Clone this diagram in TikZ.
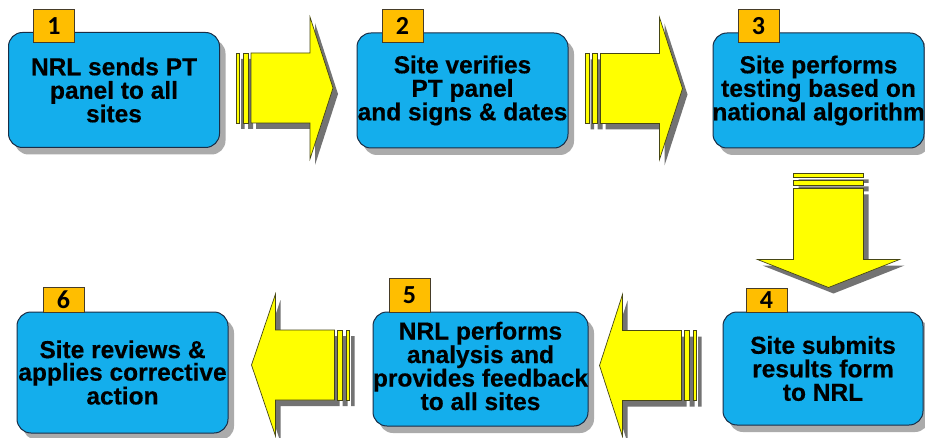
\documentclass[tikz,border=0pt]{standalone}
\usepackage{fontspec}
\setmainfont{Liberation Sans}
\newfontfamily\stepfamily[BoldFeatures={FakeBold=0.4}]{Liberation Sans}
\newfontfamily\tagfamily{Carlito}
\usetikzlibrary{shadows}

\definecolor{stepblue}{RGB}{20,174,236}
\definecolor{stepline}{RGB}{25,45,70}
\definecolor{tagorange}{RGB}{255,190,0}
\definecolor{tagline}{RGB}{70,60,40}
\definecolor{arrowyellow}{RGB}{255,255,0}
\definecolor{arrowline}{RGB}{70,70,20}

\tikzset{
  stepbox/.style={draw=stepline, line width=1pt, fill=stepblue, rounded corners=14pt,
    minimum width=211, minimum height=115, inner sep=0,
    drop shadow={shadow xshift=6pt, shadow yshift=-7pt, fill=black!65}},
  steptext/.style={align=center, inner sep=0, font=\stepfamily\bfseries\fontsize{24.5}{23.5}\selectfont},
  steptag/.style={draw=tagline, line width=0.8pt, fill=tagorange, anchor=north west,
    minimum width=41, minimum height=33, inner sep=0,
    font=\tagfamily\bfseries\fontsize{26}{26}\selectfont},
  arrowpart/.style={draw=arrowline, line width=0.7pt, fill=arrowyellow},
  arrowshade/.style={fill=black!55},
  % #1 head base, #2 tip, #3 shadow offset in the arrow's own frame
  pics/flowarrow/.style n args={3}{code={
    \fill[arrowshade, shift={(#3)}] (15,-35) -- (#1,-35) -- (#1,-71) -- (#2,0) -- (#1,71) -- (#1,35) -- (15,35) -- cycle
      (7,-35) rectangle (12,35) (0,-35) rectangle (3.5,35);
    \filldraw[arrowpart] (15,-35) -- (#1,-35) -- (#1,-71) -- (#2,0) -- (#1,71) -- (#1,35) -- (15,35) -- cycle;
    \filldraw[arrowpart] (7,-35) rectangle (12,35);
    \filldraw[arrowpart] (0,-35) rectangle (3.5,35);
  }}
}

\begin{document}
\begin{tikzpicture}[x=1pt,y=-1pt]
\fill[white] (0,0) rectangle (925,438);
\useasboundingbox (0,0) rectangle (925,438);

% top row
\node[stepbox] (s1) at (114,90) {};
\node[stepbox] (s2) at (462.5,90.5) {};
\node[stepbox] (s3) at (818.5,90.5) {};
% bottom row
\node[stepbox, minimum width=200, minimum height=113] (s4) at (823,368.5) {};
\node[stepbox, minimum width=215, minimum height=114] (s5) at (480.5,369) {};
\node[stepbox, minimum height=121] (s6) at (122.5,372.5) {};

% texts
\node[steptext] (l1) at (s1) {NRL sends PT\\panel to all\\sites};
\node[steptext] (l2) at (s2) {Site verifies\\PT panel\\and signs \& dates};
\node[steptext] (l3) at (s3) {Site performs\\testing based on\\national algorithm};
\node[steptext] (l4) at (s4) {Site submits\\results form\\to NRL};
\node[steptext] (l5) at ([yshift=3]s5.center) {NRL performs\\analysis and\\provides feedback\\to all sites};
\node[steptext, font=\stepfamily\bfseries\fontsize{24.5}{22.5}\selectfont] (l6) at (s6) {Site reviews \&\\applies corrective\\action};

% number tags
\node[steptag] (t1) at ([xshift=25,yshift=23]s1.north west) {1};
\node[steptag] (t2) at ([xshift=25,yshift=23]s2.north west) {2};
\node[steptag] (t3) at ([xshift=25,yshift=23]s3.north west) {3};
\node[steptag, minimum height=24] (t4) at ([xshift=23,yshift=24]s4.north west) {4};
\node[steptag, minimum height=34] (t5) at ([xshift=16,yshift=34]s5.north west) {5};
\node[steptag, minimum height=25] (t6) at ([xshift=26,yshift=25]s6.north west) {6};

% arrows between steps
\pic at ([xshift=16,yshift=2]s1.east) {flowarrow={74}{97}{5,6}};
\pic at ([xshift=17,yshift=2]s2.east) {flowarrow={74}{97}{5,6}};
\pic[rotate=-90] at ([xshift=10,yshift=-25]s3.south) {flowarrow={86}{114}{6,-5}};
\pic[rotate=180] at ([xshift=-26,yshift=3]s4.west) {flowarrow={74}{97}{-5,-6}};
\pic[rotate=180] at ([xshift=-23,yshift=4]s5.west) {flowarrow={74}{98}{-5,-6}};

\end{tikzpicture}
\end{document}
